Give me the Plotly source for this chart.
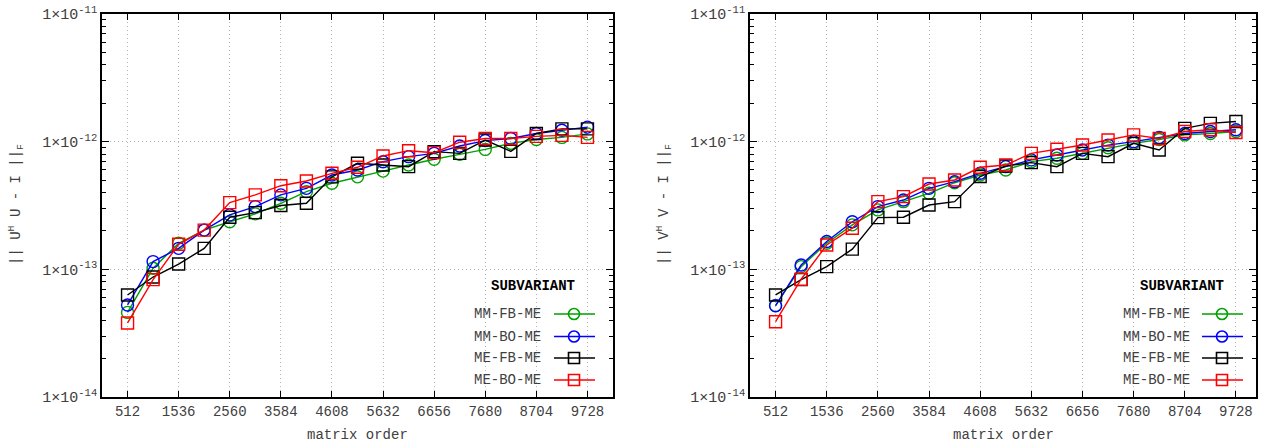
import plotly.graph_objects as go
from plotly.subplots import make_subplots

# ---------------- data ----------------
matrix_order = [512, 1024, 1536, 2048, 2560, 3072, 3584, 4096, 4608, 5120,
                5632, 6144, 6656, 7168, 7680, 8192, 8704, 9216, 9728]
x_tick_vals = [512, 1536, 2560, 3584, 4608, 5632, 6656, 7680, 8704, 9728]
y_tick_vals = [1e-14, 1e-13, 1e-12, 1e-11]
y_tick_text = ["1×10<sup>-14</sup>", "1×10<sup>-13</sup>", "1×10<sup>-12</sup>", "1×10<sup>-11</sup>"]

series_names = ["MM-FB-ME", "MM-BO-ME", "ME-FB-ME", "ME-BO-ME"]

# || U^H U - I ||_F
mm_fb_u = [4.6e-14, 1.02e-13, 1.6e-13, 2.03e-13, 2.36e-13, 2.72e-13, 3.29e-13, 4.06e-13, 4.72e-13, 5.3e-13,
           5.88e-13, 6.56e-13, 7.28e-13, 7.96e-13, 8.7e-13, 9.7e-13, 1.04e-12, 1.08e-12, 1.15e-12]
mm_bo_u = [5.26e-14, 1.15e-13, 1.46e-13, 2.03e-13, 2.67e-13, 3.10e-13, 3.83e-13, 4.31e-13, 5.48e-13, 6.0e-13,
           6.97e-13, 7.63e-13, 8.1e-13, 9.25e-13, 1.02e-12, 1.06e-12, 1.16e-12, 1.23e-12, 1.30e-12]
me_fb_u = [6.3e-14, 8.7e-14, 1.10e-13, 1.46e-13, 2.56e-13, 2.78e-13, 3.16e-13, 3.29e-13, 5.3e-13, 6.77e-13,
           6.56e-13, 6.37e-13, 8.35e-13, 8.1e-13, 1.03e-12, 8.4e-13, 1.16e-12, 1.26e-12, 1.26e-12]
me_bo_u = [3.8e-14, 8.3e-14, 1.57e-13, 2.03e-13, 3.33e-13, 3.83e-13, 4.52e-13, 4.92e-13, 5.65e-13, 6.3e-13,
           7.73e-13, 8.5e-13, 8.2e-13, 9.9e-13, 1.06e-12, 1.06e-12, 1.10e-12, 1.12e-12, 1.08e-12]

# || V^H V - I ||_F
mm_fb_v = [5.2e-14, 1.05e-13, 1.6e-13, 2.23e-13, 2.92e-13, 3.39e-13, 3.94e-13, 4.77e-13, 5.48e-13, 6.0e-13,
           6.97e-13, 7.41e-13, 8.1e-13, 8.97e-13, 9.7e-13, 1.04e-12, 1.13e-12, 1.16e-12, 1.2e-12]
mm_bo_v = [5.19e-14, 1.08e-13, 1.65e-13, 2.36e-13, 3.1e-13, 3.49e-13, 4.31e-13, 4.86e-13, 5.65e-13, 6.37e-13,
           7.2e-13, 7.87e-13, 8.6e-13, 9.4e-13, 1.0e-12, 1.08e-12, 1.16e-12, 1.2e-12, 1.24e-12]
me_fb_v = [6.3e-14, 8.3e-14, 1.05e-13, 1.44e-13, 2.54e-13, 2.56e-13, 3.19e-13, 3.39e-13, 5.33e-13, 6.45e-13,
           6.85e-13, 6.37e-13, 8.1e-13, 7.63e-13, 9.7e-13, 8.6e-13, 1.27e-12, 1.39e-12, 1.44e-12]
me_bo_v = [3.89e-14, 8.36e-14, 1.55e-13, 2.1e-13, 3.39e-13, 3.71e-13, 4.66e-13, 5.01e-13, 6.3e-13, 6.56e-13,
           8.1e-13, 8.72e-13, 9.42e-13, 1.03e-12, 1.13e-12, 1.06e-12, 1.2e-12, 1.24e-12, 1.18e-12]

# ---------------- style ----------------
colors = ["#00a000", "#0000ff", "#000000", "#ff0000"]
symbols = ["circle-open", "circle-open", "square-open", "square-open"]
FONT = "Liberation Mono, Courier New, monospace"
TXT = "#404040"
W, H = 1264, 446
ML, MR, MT, MB = 0, 0, 14, 49
PW, PH = W - ML - MR, H - MT - MB

def px_x(x):
    return x / PW

def px_y(y):
    return (H - MB - y) / PH

fig = make_subplots(rows=1, cols=2, horizontal_spacing=0.05)

panels = [
    ([mm_fb_u, mm_bo_u, me_fb_u, me_bo_u], 1),
    ([mm_fb_v, mm_bo_v, me_fb_v, me_bo_v], 2),
]
for data, col in panels:
    for name, vals, c, s in zip(series_names, data, colors, symbols):
        fig.add_trace(go.Scatter(
            x=matrix_order, y=vals, mode="lines+markers", name=name,
            line=dict(color=c, width=1.4),
            marker=dict(symbol=s, size=12, color=c, line=dict(color=c, width=1.4)),
            showlegend=False,
        ), row=1, col=col)

minor_vals = [m * 10 ** e for e in (-14, -13, -12) for m in range(2, 10)]

axis_common = dict(
    showline=True, linecolor="#000000", linewidth=1.6, mirror="allticks",
    ticks="inside", tickcolor="#000000",
    showgrid=True, gridcolor="#b4b4b4", griddash="1px,3px", gridwidth=1,
    zeroline=False,
)

domains = [(102 / W, 613 / W), (750 / W, 1256 / W)]
xranges = [[0, 10240], [0, 10130]]
for i in range(2):
    fig.update_xaxes(
        type="linear", range=xranges[i], domain=list(domains[i]),
        tickmode="array", tickvals=x_tick_vals, ticklen=6,
        tickfont=dict(family=FONT, size=14, color=TXT),
        **axis_common, row=1, col=i + 1,
    )
    fig.update_yaxes(
        type="log", range=[-14, -11],
        tickmode="array", tickvals=y_tick_vals, ticktext=y_tick_text, ticklen=7,
        tickfont=dict(family=FONT, size=15, color=TXT),
        minor=dict(tickmode="array", tickvals=minor_vals, ticks="inside", ticklen=4,
                   tickcolor="#000000", showgrid=False),
        **axis_common, row=1, col=i + 1,
    )

annotations = []
shapes = []

# axis titles
ytitles = ["|| U<sup>H</sup> U - I ||<sub>F</sub>", "|| V<sup>H</sup> V - I ||<sub>F</sub>"]
ytitle_x = [16, 664]
xtitle_cx = [357, 1003]
for i in range(2):
    annotations.append(dict(
        text=ytitles[i], x=px_x(ytitle_x[i]), y=px_y(205), xref="paper", yref="paper",
        textangle=-90, showarrow=False, font=dict(family=FONT, size=14, color=TXT),
        xanchor="center", yanchor="middle"))
    annotations.append(dict(
        text="matrix order", x=px_x(xtitle_cx[i]), y=px_y(435), xref="paper", yref="paper",
        showarrow=False, font=dict(family=FONT, size=14, color=TXT),
        xanchor="center", yanchor="middle"))

# custom legends (text left, sample right, like gnuplot)
legend_geo = [
    dict(title_cx=533, text_right=543, line0=554, line1=595, mark=574),
    dict(title_cx=1182, text_right=1192, line0=1202, line1=1243, mark=1222),
]
entry_y = [314, 336.5, 358, 380]
for g in legend_geo:
    annotations.append(dict(
        text="<b>SUBVARIANT</b>", x=px_x(g["title_cx"]), y=px_y(285.5), xref="paper", yref="paper",
        showarrow=False, font=dict(family=FONT, size=14, color="#000000"),
        xanchor="center", yanchor="middle"))
    for name, c, s, ey in zip(series_names, colors, symbols, entry_y):
        annotations.append(dict(
            text=name, x=px_x(g["text_right"]), y=px_y(ey), xref="paper", yref="paper",
            showarrow=False, font=dict(family=FONT, size=14, color=TXT),
            xanchor="right", yanchor="middle"))
        shapes.append(dict(type="line", xref="paper", yref="paper",
                           x0=px_x(g["line0"]), x1=px_x(g["line1"]), y0=px_y(ey), y1=px_y(ey),
                           line=dict(color=c, width=1.6)))
        shapes.append(dict(type="circle" if s.startswith("circle") else "rect",
                           xref="paper", yref="paper", xsizemode="pixel", ysizemode="pixel",
                           xanchor=px_x(g["mark"]), yanchor=px_y(ey),
                           x0=-5.5, x1=5.5, y0=-5.5, y1=5.5,
                           fillcolor="rgba(0,0,0,0)", line=dict(color=c, width=1.6)))

fig.update_layout(
    width=W, height=H,
    margin=dict(l=ML, r=MR, t=MT, b=MB, autoexpand=False),
    paper_bgcolor="#ffffff", plot_bgcolor="#ffffff",
    showlegend=False,
    annotations=annotations, shapes=shapes,
    font=dict(family=FONT, size=14, color=TXT),
)

fig.write_html("out.html",
               config={"displayModeBar": False},
               post_script="document.body.style.margin='0px';document.body.style.overflow='hidden';")
